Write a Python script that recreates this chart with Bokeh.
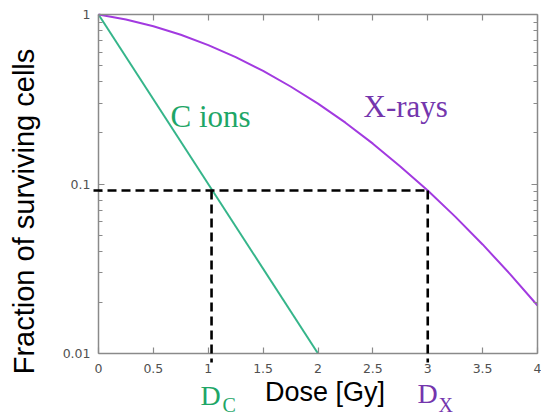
import numpy as np
from bokeh.plotting import figure
from bokeh.models import (Range1d, FixedTicker, LinearAxis, LogAxis, Label,
                          CustomJSTickFormatter, Arrow)
from bokeh.embed import file_html
from bokeh.resources import INLINE

# ---- data ----
dose_xray = [0, 0.25, 0.5, 0.75, 1.0, 1.25, 1.5, 1.75, 2.0, 2.25, 2.5, 2.75, 3.0, 3.25, 3.5, 3.75, 4.0]
surv_xray = [1.0, 0.934, 0.852, 0.759, 0.660, 0.561, 0.465, 0.376, 0.298, 0.230, 0.173, 0.127, 0.0916, 0.0642, 0.0440, 0.0294, 0.0192]
dose_cion = [0.0, 2.0]
surv_cion = [1.0, 0.01]

x_ticks = [0, 0.5, 1, 1.5, 2, 2.5, 3, 3.5, 4]
y_ticks = [0.01, 0.1, 1]
y_minor = [0.02, 0.03, 0.04, 0.05, 0.06, 0.07, 0.08, 0.09,
           0.2, 0.3, 0.4, 0.5, 0.6, 0.7, 0.8, 0.9]

d_c = 1.03      # dose for C ions at reference survival level
d_x = 3.0       # dose for X-rays at reference survival level
s_level = 0.0916

series_labels = ["C ions", "X-rays"]
dose_letter = ["D", "D"]
dose_subs = ["C", "X"]
x_title = "Dose [Gy]"
y_title = "Fraction of surviving cells"

GREEN_LINE = "#35b58a"
PURPLE_LINE = "#a23ae0"
GREEN_TXT = "#1ea667"
PURPLE_TXT = "#7436ad"
AX = "#8a8a8a"

# ---- layout: the frame fills the canvas, axes are pinned to the data box ----
W, H = 541, 414
LEFT, RIGHT, TOP, BOTTOM = 98, 537, 14, 353           # pixel edges of the data box
XMIN, XMAX, YMIN, YMAX = 0.0, 4.0, 0.01, 1.0
sx = (RIGHT - LEFT) / (XMAX - XMIN)
sy = (BOTTOM - TOP) / (np.log10(YMAX) - np.log10(YMIN))
x0 = XMIN - LEFT / sx
x1 = XMAX + (W - RIGHT) / sx
y1 = 10 ** (np.log10(YMAX) + TOP / sy)
y0 = 10 ** (np.log10(YMIN) - (H - BOTTOM) / sy)

def px_x(px):
    return XMIN + (px - LEFT) / sx

def px_y(py):
    return 10 ** (np.log10(YMAX) - (py - TOP) / sy)

p = figure(width=W, height=H, y_axis_type="log",
           x_range=Range1d(x0, x1), y_range=Range1d(y0, y1),
           output_backend="svg", toolbar_location=None, min_border=0)
p.grid.visible = False
p.outline_line_color = None
p.background_fill_color = "white"
p.border_fill_color = "white"

fmt = CustomJSTickFormatter(code="return tick.toString();")

def style(ax, labels=True):
    ax.axis_line_color = AX
    ax.axis_line_width = 1.5
    ax.major_tick_line_color = AX
    ax.minor_tick_line_color = AX
    ax.major_tick_in = 6
    ax.major_tick_out = 0
    ax.minor_tick_in = 4
    ax.minor_tick_out = 0
    ax.major_tick_line_width = 1.2
    ax.minor_tick_line_width = 1.0
    ax.formatter = fmt
    if labels:
        ax.major_label_text_font = "DejaVu Sans"
        ax.major_label_text_font_size = "12.5px"
        ax.major_label_text_color = "#505050"
    else:
        ax.major_label_text_color = None

bx = p.xaxis[0]
by = p.yaxis[0]
bx.ticker = FixedTicker(ticks=x_ticks)
by.ticker = FixedTicker(ticks=y_ticks, minor_ticks=y_minor)
style(bx)
style(by)
bx.minor_tick_line_color = None
bx.major_label_standoff = 10
by.major_label_standoff = 8
bx.fixed_location = YMIN
bx.bounds = (XMIN, XMAX)
by.fixed_location = XMIN
by.bounds = (YMIN, YMAX)

ax_top = LinearAxis(ticker=FixedTicker(ticks=x_ticks), fixed_location=YMAX, bounds=(XMIN, XMAX))
style(ax_top, labels=False)
ax_top.minor_tick_line_color = None
p.add_layout(ax_top, "above")
ax_right = LogAxis(ticker=FixedTicker(ticks=y_ticks, minor_ticks=y_minor),
                   fixed_location=XMAX, bounds=(YMIN, YMAX))
style(ax_right, labels=False)
p.add_layout(ax_right, "right")

# curves
p.line(dose_cion, surv_cion, line_color=GREEN_LINE, line_width=2)
p.line(dose_xray, surv_xray, line_color=PURPLE_LINE, line_width=2)

# dashed guide lines
dash = dict(line_color="black", line_width=2.6, line_dash="9 5", end=None)
p.add_layout(Arrow(x_start=px_x(93), y_start=s_level, x_end=d_x, y_end=s_level, **dash))
p.add_layout(Arrow(x_start=d_c, y_start=s_level, x_end=d_c, y_end=px_y(362), **dash))
p.add_layout(Arrow(x_start=d_x, y_start=s_level, x_end=d_x, y_end=px_y(362), **dash))

serif = "Liberation Serif"

def label(px, py, text, font, size, color, **kw):
    p.add_layout(Label(x=px_x(px), y=px_y(py), text=text, text_font=font,
                       text_font_size=size, text_color=color, **kw))

# series labels
label(170, 133, series_labels[0], serif, "31px", GREEN_TXT)
label(363, 123, series_labels[1], serif, "31px", PURPLE_TXT)

# D_C and D_X below axis
label(200, 410, dose_letter[0], serif, "28px", GREEN_TXT)
label(222, 415, dose_subs[0], serif, "20px", GREEN_TXT)
label(417, 408, dose_letter[1], serif, "28px", PURPLE_TXT)
label(438, 415, dose_subs[1], serif, "20px", PURPLE_TXT)

# axis titles
label(324.5, 406, x_title, "Liberation Sans", "27px", "black", text_align="center")
label(39, 211, y_title, "Liberation Sans", "29px", "black", text_align="center",
      angle=np.pi / 2)

open("out.html", "w").write(file_html(p, INLINE))
